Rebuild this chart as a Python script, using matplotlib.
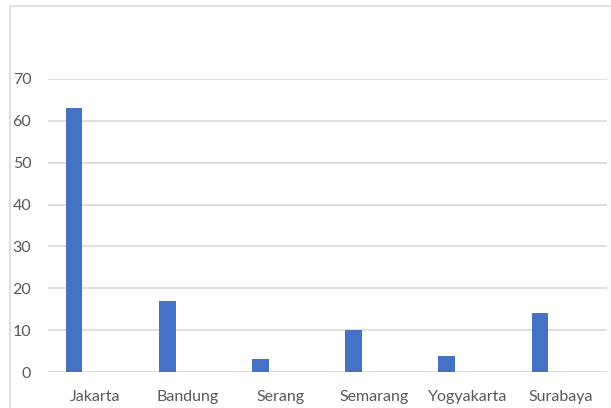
import matplotlib
matplotlib.use("Agg")
import matplotlib.pyplot as plt
from matplotlib.patches import Rectangle
import numpy as np

cities = ["Jakarta", "Bandung", "Serang", "Semarang", "Yogyakarta", "Surabaya"]
values = [63, 17, 3, 10, 3.8, 14]
y_ticks = [0, 10, 20, 30, 40, 50, 60, 70]

W, H = 611, 408
DPI = 100
plt.rcParams["font.family"] = ["Lato", "DejaVu Sans"]

fig = plt.figure(figsize=(W / DPI, H / DPI), dpi=DPI)
fig.patch.set_facecolor("white")

# chart-area border
fig.patches.append(Rectangle((10 / W, -0.1), 1.2, 1 - 6 / H + 0.1,
                             transform=fig.transFigure, fill=False,
                             edgecolor="#D9D9D9", linewidth=1.2, zorder=0))

left, right = 48 / W, 607 / W
bottom, top = 1 - 372 / H, 1 - 79 / H
ax = fig.add_axes([left, bottom, right - left, top - bottom])

x = np.arange(len(cities))
ax.bar(x - 0.22, values, width=0.18, color="#4472C4", zorder=3)

ax.set_xlim(-0.5, len(cities) - 0.5)
ax.set_ylim(0, 70)
ax.set_yticks(y_ticks)
ax.set_xticks(x)
ax.set_xticklabels(cities)

ax.grid(axis="y", color="#D9D9D9", linewidth=1.2, zorder=0)
ax.set_axisbelow(True)
for s in ax.spines.values():
    s.set_visible(False)
ax.tick_params(axis="both", length=0, labelsize=11.5, colors="#595959")
ax.tick_params(axis="y", pad=12)
ax.tick_params(axis="x", pad=13)

fig.savefig("out.png", dpi=DPI, facecolor="white")
